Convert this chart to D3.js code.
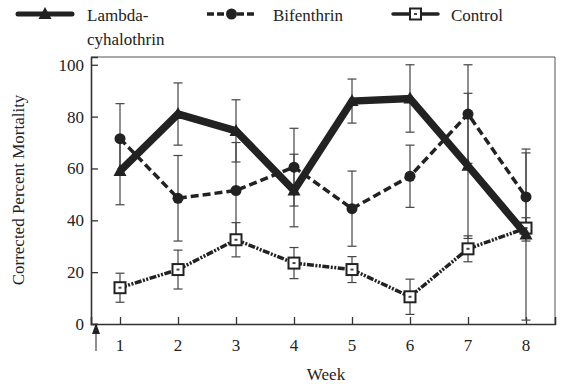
<!DOCTYPE html>
<html lang="en">
<head>
<meta charset="UTF-8">
<title>Corrected Percent Mortality</title>
<script src="https://d3js.org/d3.v7.min.js"></script>
<style>
    body { margin: 0; padding: 0; background: #fff; }
</style>
</head>
<body>
<svg id="chart" width="561" height="384"></svg>
<script>
    // data
    const weeks = [1, 2, 3, 4, 5, 6, 7, 8];
    const yTicks = [0, 20, 40, 60, 80, 100];

    const lambdaMean = [59, 81, 74.5, 51.5, 86, 87, 61, 34.5];
    const lambdaErr  = [13, 12, 12, 14, 8.5, 13, 28, 33];

    const bifMean = [71.5, 48.5, 51.5, 60.5, 44.5, 57, 81, 49];
    const bifErr  = [13.5, 16.5, 18.5, 15, 14.5, 12, 19, 17];

    const ctrlMean = [14, 21, 32.5, 23.5, 21, 10.5, 29, 37];
    const ctrlErr  = [5.6, 7.5, 6.6, 6, 5, 6.8, 5, 4];

    const FONT = "'Liberation Serif', 'Times New Roman', serif";

    const svg = d3.select("#chart");

    const x = d3.scaleLinear().domain([0.5, 8.5]).range([91, 555]);
    const y = d3.scaleLinear().domain([0, 103]).range([324, 57]);

    // frame (top / right thin)
    svg.append("path")
        .attr("d", `M${x(0.5)},${y(103)} H${x(8.5)} V${y(0)}`)
        .attr("fill", "none")
        .attr("stroke", "#555")
        .attr("stroke-width", 1);

    // axes with inward ticks
    const yAxis = svg.append("g")
        .attr("transform", `translate(${x(0.5)},0)`)
        .call(d3.axisRight(y).tickValues(yTicks).tickSize(7).tickFormat(""));
    yAxis.select(".domain").attr("stroke", "#333").attr("stroke-width", 1.6);
    yAxis.selectAll(".tick line").attr("stroke", "#333").attr("stroke-width", 1.3);

    const xAxis = svg.append("g")
        .attr("transform", `translate(0,${y(0)})`)
        .call(d3.axisTop(x).tickValues(weeks).tickSize(7).tickFormat(""));
    xAxis.select(".domain").attr("stroke", "#333").attr("stroke-width", 1.6);
    xAxis.selectAll(".tick line").attr("stroke", "#333").attr("stroke-width", 1.3);

    function txt(sel) {
        return sel.attr("font-family", FONT).attr("font-size", 17).attr("fill", "#222");
    }

    // tick labels
    svg.selectAll(".ylab")
        .data(yTicks)
        .enter().append("text")
        .attr("x", 84)
        .attr("y", d => y(d) + 6)
        .attr("text-anchor", "end")
        .call(txt)
        .text(d => d);

    svg.selectAll(".xlab")
        .data(weeks)
        .enter().append("text")
        .attr("x", d => x(d))
        .attr("y", 351)
        .attr("text-anchor", "middle")
        .call(txt)
        .text(d => d);

    svg.append("text")
        .attr("x", 326).attr("y", 380)
        .attr("text-anchor", "middle")
        .call(txt)
        .text("Week");

    svg.append("text")
        .attr("transform", "translate(24,190) rotate(-90)")
        .attr("text-anchor", "middle")
        .call(txt)
        .text("Corrected Percent Mortality");

    // arrow under the axis
    svg.append("line")
        .attr("x1", 96).attr("x2", 96)
        .attr("y1", 351).attr("y2", 333)
        .attr("stroke", "#444").attr("stroke-width", 1.2);
    svg.append("path")
        .attr("d", "M96,323 L92,334 L100,334 Z")
        .attr("fill", "#222");

    const series = [
        { name: "ctrl", mean: ctrlMean, err: ctrlErr, width: 3.5, dash: "7,1.5,2,1.5,2,1.5", marker: "square" },
        { name: "bif", mean: bifMean, err: bifErr, width: 3.5, dash: "8,4", marker: "circle" },
        { name: "lambda", mean: lambdaMean, err: lambdaErr, width: 7.5, dash: null, marker: "triangle" }
    ];

    // error bars
    series.forEach(s => {
        const g = svg.append("g").attr("stroke", "#444").attr("stroke-width", 1.2);
        weeks.forEach((w, i) => {
            const lo = Math.max(s.mean[i] - s.err[i], 0), hi = s.mean[i] + s.err[i];
            g.append("line").attr("x1", x(w)).attr("x2", x(w)).attr("y1", y(lo)).attr("y2", y(hi));
            g.append("line").attr("x1", x(w) - 4.5).attr("x2", x(w) + 4.5).attr("y1", y(lo)).attr("y2", y(lo));
            g.append("line").attr("x1", x(w) - 4.5).attr("x2", x(w) + 4.5).attr("y1", y(hi)).attr("y2", y(hi));
        });
    });

    const line = d3.line().x((d, i) => x(weeks[i])).y(d => y(d));

    const triPath = "M0,-7 L6.5,5 L-6.5,5 Z";

    function drawMarker(g, type, cx, cy) {
        if (type === "circle") {
            g.append("circle").attr("cx", cx).attr("cy", cy).attr("r", 5.5).attr("fill", "#222");
        } else if (type === "square") {
            g.append("rect").attr("x", cx - 5.5).attr("y", cy - 5.5).attr("width", 11).attr("height", 11)
                .attr("fill", "#fff").attr("stroke", "#222").attr("stroke-width", 2);
            g.append("rect").attr("x", cx - 1.5).attr("y", cy - 1).attr("width", 3).attr("height", 2).attr("fill", "#444");
        } else {
            g.append("path").attr("d", triPath).attr("transform", `translate(${cx},${cy})`).attr("fill", "#222");
        }
    }

    series.forEach(s => {
        svg.append("path")
            .datum(s.mean)
            .attr("d", line)
            .attr("fill", "none")
            .attr("stroke", "#222")
            .attr("stroke-width", s.width)
            .attr("stroke-dasharray", s.dash)
            .attr("stroke-linejoin", "miter");
        const g = svg.append("g");
        s.mean.forEach((v, i) => drawMarker(g, s.marker, x(weeks[i]), y(v)));
    });

    // legend
    const legend = [
        { x1: 18, x2: 72, label: ["Lambda-", "cyhalothrin"], tx: 87, width: 5, dash: null, marker: "triangle" },
        { x1: 207, x2: 256, label: ["Bifenthrin"], tx: 273, width: 3.5, dash: "7,3", marker: "circle" },
        { x1: 393, x2: 438, label: ["Control"], tx: 451, width: 3.5, dash: null, marker: "square" }
    ];
    legend.forEach(l => {
        const g = svg.append("g");
        g.append("line")
            .attr("x1", l.x1).attr("x2", l.x2).attr("y1", 14).attr("y2", 14)
            .attr("stroke", "#222").attr("stroke-width", l.width)
            .attr("stroke-linecap", l.dash ? "butt" : "round")
            .attr("stroke-dasharray", l.dash);
        drawMarker(g, l.marker, (l.x1 + l.x2) / 2, 14);
        l.label.forEach((t, k) => {
            g.append("text").attr("x", l.tx).attr("y", 21 + k * 24).call(txt).text(t);
        });
    });
</script>
</body>
</html>
